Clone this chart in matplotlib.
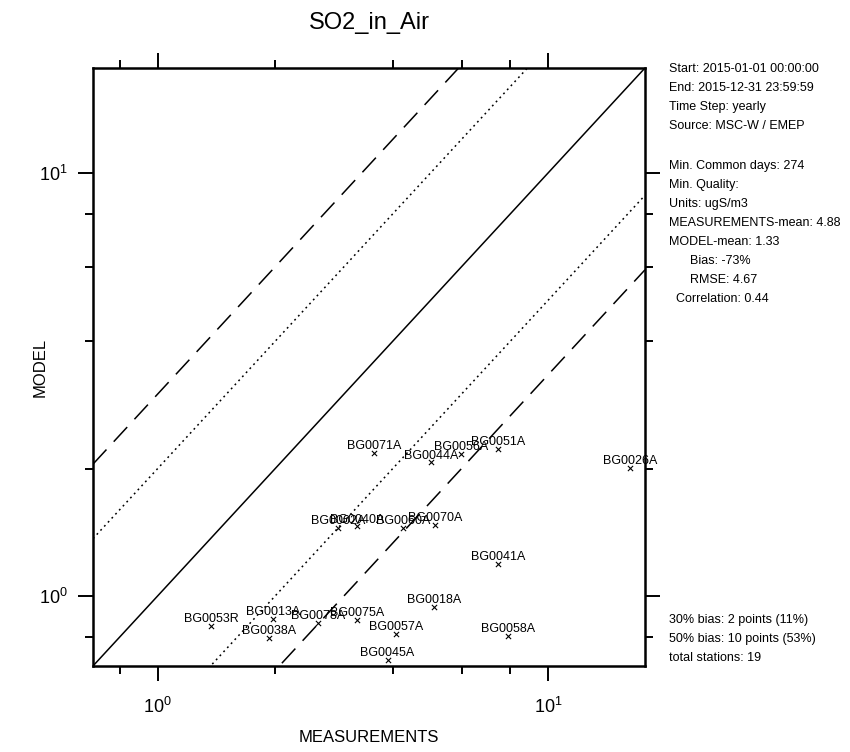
import numpy as np
from matplotlib import pyplot as plt

stations = ["BG0071A", "BG0044A", "BG0056A", "BG0051A", "BG0026A",
            "BG0002A", "BG0040A", "BG0060A", "BG0070A", "BG0041A",
            "BG0018A", "BG0053R", "BG0013A", "BG0038A", "BG0078A",
            "BG0075A", "BG0057A", "BG0058A", "BG0045A"]
measurements = [3.59, 5.01, 5.99, 7.46, 16.2,
                2.90, 3.24, 4.26, 5.14, 7.46,
                5.11, 1.37, 1.98, 1.93, 2.58,
                3.24, 4.08, 7.91, 3.88]
model = [2.18, 2.07, 2.17, 2.23, 2.01,
         1.45, 1.46, 1.45, 1.47, 1.19,
         0.942, 0.849, 0.882, 0.795, 0.863,
         0.877, 0.813, 0.804, 0.705]

info_top = ["Start: 2015-01-01 00:00:00",
            "End: 2015-12-31 23:59:59",
            "Time Step: yearly",
            "Source: MSC-W / EMEP"]
info_stats = ["Min. Common days: 274",
              "Min. Quality:",
              "Units: ugS/m3",
              "MEASUREMENTS-mean: 4.88",
              "MODEL-mean: 1.33",
              "      Bias: -73%",
              "      RMSE: 4.67",
              "  Correlation: 0.44"]
info_bottom = ["30% bias: 2 points (11%)",
               "50% bias: 10 points (53%)",
               "total stations: 19"]

lo, hi = 0.683, 17.7

plt.rcParams['font.family'] = ['Liberation Sans', 'DejaVu Sans']

fig = plt.figure(figsize=(8.5, 7.52), dpi=100)
ax = fig.add_axes([0.1094, 0.1144, 0.6494, 0.7952])
ax.set_xscale('log')
ax.set_yscale('log')
ax.set_xlim(lo, hi)
ax.set_ylim(lo, hi)

# reference lines: 1:1, factor 2 (dotted), factor 3 (dashed)
xx = np.array([lo, hi])
ax.plot(xx, xx, color='black', lw=1.1)
for k in (2, 1/2):
    ax.plot(xx, xx * k, color='black', lw=1.1, dashes=(1.2, 2.4))
for k in (3, 1/3):
    ax.plot(xx, xx * k, color='black', lw=1.1, dashes=(13, 7))

ax.scatter(measurements, model, marker='x', s=14, c='black', linewidths=0.8, zorder=3)
for name, mx, my in zip(stations, measurements, model):
    ax.annotate(name, (mx, my), xytext=(0, 0.5), textcoords='offset points',
                ha='center', va='bottom', fontsize=9)

ax.set_xticks([1, 10])
ax.set_yticks([1, 10])
ax.set_xticks([0.8, 2, 4, 6, 8], minor=True)
ax.set_yticks([0.8, 2, 4, 6, 8], minor=True)
ax.xaxis.set_minor_formatter(plt.NullFormatter())
ax.yaxis.set_minor_formatter(plt.NullFormatter())
ax.tick_params(which='both', direction='out', top=True, right=True, width=1.4, labelsize=13)
ax.tick_params(which='major', length=11)
ax.tick_params(which='minor', length=6)
ax.tick_params(axis='x', which='major', pad=11)
ax.tick_params(axis='y', which='major', pad=7)
for s in ax.spines.values():
    s.set_linewidth(1.8)

ax.set_title("SO2_in_Air", fontsize=17, pad=28)
ax.set_xlabel("MEASUREMENTS", fontsize=12, va='center')
ax.set_ylabel("MODEL", fontsize=12, va='center')
ax.xaxis.set_label_coords(0.5, -0.119)
ax.yaxis.set_label_coords(-0.096, 0.5)

# statistics text on the right
x0 = 669 / 850
def put_lines(lines, ytop):
    for i, t in enumerate(lines):
        fig.text(x0, 1 - (ytop + i * 19) / 752, t, fontsize=9, va='center', ha='left')

put_lines(info_top, 69)
put_lines(info_stats, 166)
put_lines(info_bottom, 620)

plt.savefig("out.png", dpi=100)
